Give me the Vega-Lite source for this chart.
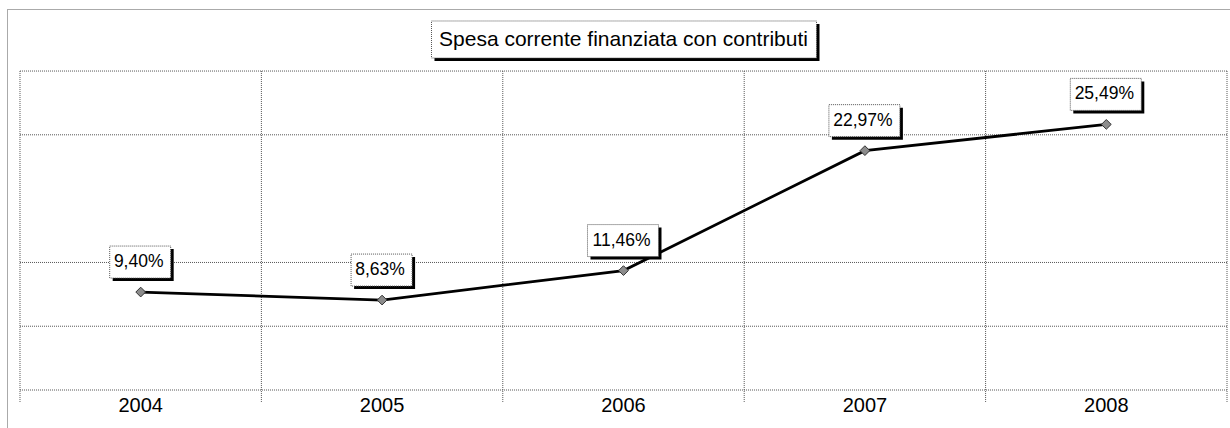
{
  "$schema": "https://vega.github.io/schema/vega-lite/v6.json",
  "width": 1225,
  "height": 425,
  "autosize": {"type": "none"},
  "padding": {"left": 7, "top": 9, "right": 0, "bottom": 0},
  "background": "white",
  "config": {
    "view": {"stroke": "#555555", "strokeDash": [1, 1], "strokeWidth": 1},
    "font": "Liberation Sans"
  },
  "datasets": {
    "main": [
      {"year": 2004, "v": 9.40, "label": "9,40%"},
      {"year": 2005, "v": 8.63, "label": "8,63%"},
      {"year": 2006, "v": 11.46, "label": "11,46%"},
      {"year": 2007, "v": 22.97, "label": "22,97%"},
      {"year": 2008, "v": 25.49, "label": "25,49%"}
    ],
    "vgrid": [
      {"b": 2003.5}, {"b": 2004.5}, {"b": 2005.5}, {"b": 2006.5}, {"b": 2007.5}, {"b": 2008.5}
    ],
    "hgrid": [
      {"g": 0}, {"g": 6.12}, {"g": 12.24}, {"g": 24.49}, {"g": 30.61}
    ],
    "titolo": [
      {"year": 2006, "t": "Spesa corrente finanziata con contributi"}
    ]
  },
  "layer": [
    {
      "data": {"name": "hgrid"},
      "mark": {"type": "rule", "stroke": "#555555", "strokeDash": [1, 1], "strokeWidth": 1},
      "encoding": {
        "x": {"datum": 2003.5, "type": "quantitative", "scale": {"domain": [2003.4462, 2008.5207], "nice": false, "zero": false}, "axis": null},
        "x2": {"datum": 2008.5},
        "y": {"field": "g", "type": "quantitative", "scale": {"domain": [-4.2226, 36.564], "nice": false, "zero": false}, "axis": null}
      }
    },
    {
      "data": {"name": "vgrid"},
      "mark": {"type": "rule", "stroke": "#555555", "strokeDash": [1, 1], "strokeWidth": 1},
      "encoding": {
        "x": {"field": "b", "type": "quantitative"},
        "y": {"datum": 30.61, "type": "quantitative"},
        "y2": {"datum": -1.15}
      }
    },
    {
      "data": {"name": "main"},
      "mark": {"type": "line", "color": "black", "strokeWidth": 2.8},
      "encoding": {
        "x": {"field": "year", "type": "quantitative"},
        "y": {"field": "v", "type": "quantitative"}
      }
    },
    {
      "data": {"name": "main"},
      "mark": {"type": "point", "shape": "diamond", "filled": true, "fill": "#8c8c8c", "stroke": "#333333", "strokeWidth": 1, "size": 95, "opacity": 1},
      "encoding": {
        "x": {"field": "year", "type": "quantitative"},
        "y": {"field": "v", "type": "quantitative"}
      }
    },
    {
      "data": {"name": "main"},
      "mark": {"type": "point", "filled": true, "fill": "black", "size": 4, "opacity": 1, "strokeWidth": 0},
      "encoding": {
        "x": {"field": "year", "type": "quantitative"},
        "y": {"field": "v", "type": "quantitative"},
        "shape": {"condition": {"test": "length(datum.label) > 5", "value": "M-33,-43H38V-11H-33Z"}, "value": "M-28,-43H33V-11H-28Z"}
      }
    },
    {
      "data": {"name": "main"},
      "mark": {"type": "point", "filled": true, "fill": "white", "stroke": "#555555", "strokeDash": [1, 1], "strokeWidth": 1, "size": 4, "opacity": 1},
      "encoding": {
        "x": {"field": "year", "type": "quantitative"},
        "y": {"field": "v", "type": "quantitative"},
        "shape": {"condition": {"test": "length(datum.label) > 5", "value": "M-36,-46H35V-14H-36Z"}, "value": "M-31,-46H30V-14H-31Z"}
      }
    },
    {
      "data": {"name": "main"},
      "mark": {"type": "text", "font": "Liberation Sans", "fontSize": 17.5, "color": "black", "baseline": "middle", "align": "center", "dx": -2, "dy": -30},
      "encoding": {
        "x": {"field": "year", "type": "quantitative"},
        "y": {"field": "v", "type": "quantitative"},
        "text": {"field": "label"}
      }
    },
    {
      "data": {"name": "main"},
      "mark": {"type": "text", "font": "Liberation Sans", "fontSize": 20, "color": "black", "baseline": "middle", "align": "center"},
      "encoding": {
        "x": {"field": "year", "type": "quantitative"},
        "y": {"datum": -1.536, "type": "quantitative"},
        "text": {"field": "year", "type": "quantitative", "format": "d"}
      }
    },
    {
      "data": {"name": "titolo"},
      "mark": {"type": "point", "filled": true, "fill": "black", "size": 4, "opacity": 1, "strokeWidth": 0, "shape": "M-189,-15H196V22H-189Z"},
      "encoding": {
        "x": {"field": "year", "type": "quantitative"},
        "y": {"datum": 33.685, "type": "quantitative"}
      }
    },
    {
      "data": {"name": "titolo"},
      "mark": {"type": "point", "filled": true, "fill": "white", "stroke": "#555555", "strokeDash": [1, 1], "strokeWidth": 1, "size": 4, "opacity": 1, "shape": "M-192,-18H193V19H-192Z"},
      "encoding": {
        "x": {"field": "year", "type": "quantitative"},
        "y": {"datum": 33.685, "type": "quantitative"}
      }
    },
    {
      "data": {"name": "titolo"},
      "mark": {"type": "text", "font": "Liberation Sans", "fontSize": 21, "color": "black", "baseline": "middle", "align": "center", "dy": 1},
      "encoding": {
        "x": {"field": "year", "type": "quantitative"},
        "y": {"datum": 33.685, "type": "quantitative"},
        "text": {"field": "t"}
      }
    }
  ]
}
